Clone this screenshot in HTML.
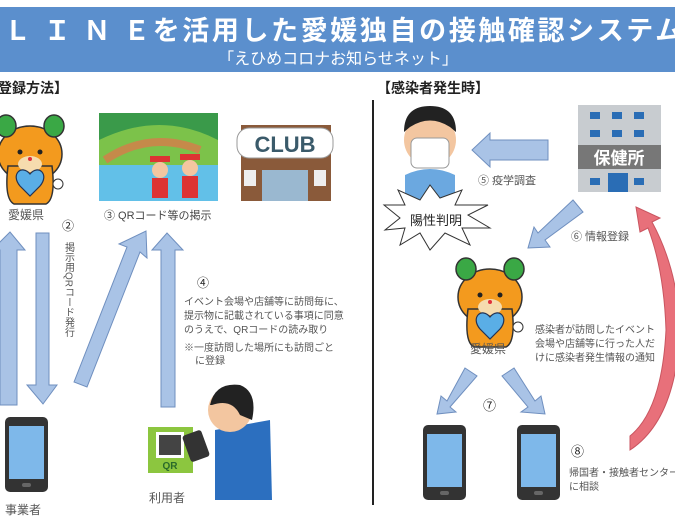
<!DOCTYPE html>
<html><head><meta charset="utf-8"><style>
html,body{margin:0;padding:0;background:#fff;width:675px;height:528px;overflow:hidden}
svg{display:block}
text{font-family:"Liberation Sans","Noto Sans CJK JP",sans-serif}
</style></head><body>
<svg width="675" height="528" viewBox="0 0 675 528" xmlns="http://www.w3.org/2000/svg">
<defs>
<g id="masc">
 <ellipse cx="38" cy="50" rx="32" ry="28" fill="#f39a1e" stroke="#333" stroke-width="1.5"/>
 <path d="M16 62 Q12 95 22 100 L54 100 Q64 95 60 62 Z" fill="#f39a1e" stroke="#333" stroke-width="1.5"/>
 <ellipse cx="14" cy="22" rx="10" ry="11" fill="#3aa845" stroke="#333" stroke-width="1.5"/>
 <ellipse cx="62" cy="22" rx="10" ry="11" fill="#3aa845" stroke="#333" stroke-width="1.5"/>
 <ellipse cx="38" cy="60" rx="12" ry="8" fill="#f6dcae"/>
 <circle cx="28" cy="48" r="2.5" fill="#222"/><circle cx="48" cy="48" r="2.5" fill="#222"/>
 <circle cx="38" cy="55" r="2" fill="#e0303a"/>
 <path d="M38 70 C30 60 18 70 28 82 L38 92 L48 82 C58 70 46 60 38 70Z" fill="#5aaee6" stroke="#235" stroke-width="1.2"/>
 <circle cx="66" cy="80" r="5" fill="#fff" stroke="#333"/>
</g>
<g id="phone">
 <rect x="0" y="0" width="43" height="75" rx="5" fill="#333"/>
 <rect x="4" y="9" width="35" height="53" fill="#7eb8ea"/>
 <rect x="17" y="66" width="9" height="4" rx="2" fill="#666"/>
</g>
</defs>

<rect x="0" y="7" width="675" height="65" fill="#5b8fcd"/>
<text x="4" y="40" font-size="27" font-weight="bold" fill="#fff" letter-spacing="2.6">Ｌ Ｉ Ｎ Ｅを活用した愛媛独自の接触確認システム</text>
<text x="338" y="64" font-size="16" fill="#fff" text-anchor="middle">「えひめコロナお知らせネット」</text>

<text x="-2" y="93" font-size="14" font-weight="bold" fill="#222">登録方法】</text>
<text x="377" y="93" font-size="14" font-weight="bold" fill="#222">【感染者発生時】</text>
<line x1="373" y1="100" x2="373" y2="505" stroke="#222" stroke-width="2"/>

<use href="#masc" x="-8" y="104"/>
<text x="8" y="219" font-size="12" fill="#555">愛媛県</text>
<text x="62" y="230" font-size="12" fill="#222">②</text>
<text font-size="10" fill="#555" x="68" y="242" style="writing-mode:vertical-rl">掲示用QRコード発行</text>

<g fill="#a9c3e6" stroke="#6f8fbf" stroke-width="1">
 <path d="M0 405 L0 250 L-8 250 L10 232 L25 250 L17 250 L17 405Z"/>
 <path d="M36 233 L49 233 L49 385 L57 385 L43 404 L27 385 L36 385Z"/>
 <path d="M74 382 L127 247 L119 244 L146 231 L147 258 L140 252 L87 387Z"/>
 <path d="M161 407 L161 250 L152 250 L167 233 L183 250 L175 250 L175 407Z"/>
</g>

<rect x="99" y="113" width="119" height="88" fill="#62c0e8"/>
<rect x="99" y="113" width="119" height="40" fill="#3a9a4a"/>
<path d="M99 140 Q160 110 218 140 L218 165 L99 165Z" fill="#7cc24a"/>
<path d="M105 160 Q150 130 200 150" stroke="#c58a4a" stroke-width="8" fill="none"/>
<circle cx="160" cy="170" r="8" fill="#f3c6a0"/><rect x="152" y="178" width="16" height="20" fill="#d33"/>
<circle cx="190" cy="168" r="8" fill="#f3c6a0"/><rect x="182" y="176" width="16" height="22" fill="#d33"/>
<path d="M150 162 h20 v-6 h-20z M180 160 h20 v-6 h-20z" fill="#d33"/>
<text x="104" y="219" font-size="11" fill="#444">③ QRコード等の掲示</text>

<rect x="241" y="125" width="90" height="76" fill="#8a5a3a"/>
<rect x="237" y="128" width="96" height="30" rx="12" fill="#fff" stroke="#999"/>
<text x="285" y="152" font-size="22" font-weight="bold" fill="#3a5a6a" text-anchor="middle">CLUB</text>
<rect x="262" y="170" width="46" height="31" fill="#9ab8d0"/>
<rect x="244" y="170" width="12" height="16" fill="#eee"/><rect x="314" y="170" width="12" height="16" fill="#eee"/>

<text x="197" y="287" font-size="12" fill="#222">④</text>
<g font-size="10" fill="#555">
 <text x="184" y="305">イベント会場や店舗等に訪問毎に、</text>
 <text x="184" y="319">提示物に記載されている事項に同意</text>
 <text x="184" y="333">のうえで、QRコードの読み取り</text>
 <text x="184" y="351">※一度訪問した場所にも訪問ごと</text>
 <text x="195" y="364">に登録</text>
</g>

<use href="#phone" x="5" y="417"/>
<text x="5" y="514" font-size="12" fill="#555">事業者</text>

<rect x="148" y="427" width="45" height="46" fill="#8cc63f"/>
<rect x="156" y="432" width="28" height="26" fill="#fff"/>
<rect x="159" y="435" width="22" height="20" fill="#444"/>
<text x="170" y="469" font-size="10" font-weight="bold" fill="#2a6a2a" text-anchor="middle">QR</text>
<path d="M215 430 L270 420 L272 500 L215 500Z" fill="#2c6fbf"/>
<circle cx="230" cy="410" r="22" fill="#f3c6a0"/>
<path d="M210 405 Q215 382 240 385 Q258 392 252 420 L240 415 Q232 398 212 405Z" fill="#222"/>
<rect x="186" y="432" width="20" height="28" rx="3" fill="#333" transform="rotate(-20 196 446)"/>
<text x="149" y="502" font-size="12" fill="#555">利用者</text>

<circle cx="430" cy="140" r="26" fill="#f3c6a0"/>
<path d="M404 132 Q404 106 430 106 Q456 106 456 132 L450 127 Q430 114 410 127Z" fill="#222"/>
<rect x="411" y="138" width="38" height="30" rx="6" fill="#fff" stroke="#999"/>
<path d="M405 200 L405 175 Q430 163 455 175 L455 200Z" fill="#6ba8e0"/>
<path d="M548 140 L548 160 L490 160 L490 167 L472 150 L490 133 L490 140Z" fill="#a9c3e6" stroke="#6f8fbf"/>
<text x="478" y="184" font-size="11" fill="#555">⑤ 疫学調査</text>

<rect x="578" y="105" width="83" height="87" fill="#c8ccd0"/>
<g fill="#2a6db5">
<rect x="590" y="112" width="10" height="7"/><rect x="612" y="112" width="10" height="7"/><rect x="634" y="112" width="10" height="7"/>
<rect x="590" y="130" width="10" height="7"/><rect x="612" y="130" width="10" height="7"/><rect x="634" y="130" width="10" height="7"/>
<rect x="590" y="178" width="10" height="7"/><rect x="608" y="173" width="20" height="19"/><rect x="634" y="178" width="10" height="7"/>
</g>
<rect x="578" y="145" width="83" height="24" fill="#777"/>
<text x="619" y="164" font-size="17" font-weight="bold" fill="#fff" text-anchor="middle">保健所</text>

<polygon points="384,205 405,205 398,190 420,200 430,185 440,198 462,190 455,205 488,205 468,215 490,228 462,228 470,245 445,233 430,250 420,233 400,245 405,228 385,230 400,218" fill="#fff" stroke="#333"/>
<text x="436" y="225" font-size="13" fill="#222" text-anchor="middle">陽性判明</text>

<path d="M573 200 L583 212 L545 240 L550 247 L528 248 L534 227 L538 233Z" fill="#a9c3e6" stroke="#6f8fbf"/>
<text x="571" y="240" font-size="11" fill="#555">⑥ 情報登録</text>

<use href="#masc" x="452" y="247"/>
<text x="470" y="353" font-size="12" fill="#555">愛媛県</text>
<g font-size="10" fill="#555">
 <text x="535" y="333">感染者が訪問したイベント</text>
 <text x="535" y="347">会場や店舗等に行った人だ</text>
 <text x="535" y="361">けに感染者発生情報の通知</text>
</g>

<g fill="#a9c3e6" stroke="#6f8fbf">
 <path d="M465 368 L477 376 L450 407 L456 412 L437 414 L441 396 L447 401Z"/>
 <path d="M514 368 L502 376 L528 407 L521 412 L545 414 L541 396 L535 401Z"/>
</g>
<text x="483" y="410" font-size="13" fill="#222">⑦</text>

<use href="#phone" x="423" y="425"/>
<use href="#phone" x="517" y="425"/>
<text x="571" y="456" font-size="13" fill="#222">⑧</text>
<text x="569" y="476" font-size="10" fill="#555">帰国者・接触者センター</text>
<text x="569" y="490" font-size="10" fill="#555">に相談</text>

<path d="M630 450 L630 436 Q662 410 666 330 Q664 270 648 228 L640 232 L636 207 L660 218 L652 222 Q678 270 680 330 Q676 420 630 450Z" fill="#e8707a" stroke="#c95560"/>
</svg>
</body></html>
